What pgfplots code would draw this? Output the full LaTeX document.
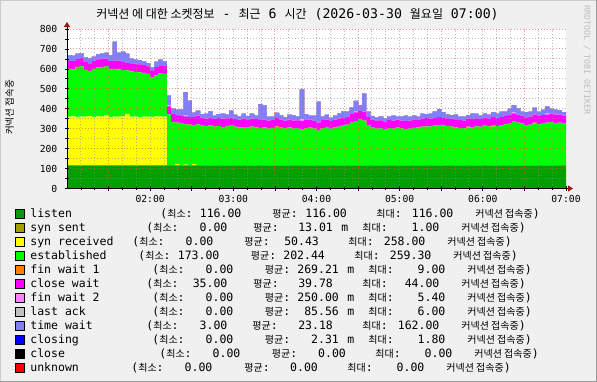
\documentclass[border=0pt]{standalone}
\usepackage{fontspec}
\setmainfont{DejaVu Sans Mono}
\newfontfamily\kr{Noto Sans CJK KR}
\usepackage{pgfplots}
\pgfplotsset{compat=1.18}
\usepackage{pgfplotstable}
\usetikzlibrary{arrows.meta}

\definecolor{bgc}{HTML}{F0F0F0}
\definecolor{shA}{HTML}{CBCBCB}
\definecolor{shB}{HTML}{999999}
\definecolor{mgrid}{HTML}{DE5151}
\definecolor{mingrid}{HTML}{8F8F8F}
\definecolor{arrowc}{HTML}{A01010}
\definecolor{wm}{HTML}{BBBBBB}
\definecolor{cL}{HTML}{00A000}
\definecolor{cSS}{HTML}{A0A000}
\definecolor{cSR}{HTML}{FFFF00}
\definecolor{cEST}{HTML}{00FF00}
\definecolor{cFW1}{HTML}{FF8000}
\definecolor{cCW}{HTML}{FF00FF}
\definecolor{cFW2}{HTML}{FF80FF}
\definecolor{cLA}{HTML}{C0C0C0}
\definecolor{cTW}{HTML}{8080FF}
\definecolor{cCG}{HTML}{0000FF}
\definecolor{cCL}{HTML}{000000}
\definecolor{cUN}{HTML}{FF0000}

\newcommand\tkf{\fontsize{9.7bp}{11bp}\selectfont}
\newcommand\lgf{\fontsize{11.5bp}{14bp}\selectfont}
\newcommand\ttf{\fontsize{13.2bp}{15bp}\selectfont}
\newcommand\kt{\kr\fontsize{12bp}{15bp}\selectfont}
\newcommand\K[1]{{\kr\fontsize{10bp}{14bp}\selectfont #1}}
\newcommand\At[2]{\rlap{\hspace*{\dimexpr#1-30bp\relax}#2}}
\newcommand\Rt[2]{\rlap{\hspace*{\dimexpr#1-30bp\relax}\llap{#2}}}
\newcommand\lrow[7]{%
  \At{30bp}{#1}%
  \At{#2bp}{(\K{최소}:}%
  \Rt{#2bp+81bp}{#3}%
  \At{#4bp}{\K{평균}:}%
  \Rt{#2bp+186.5bp}{#5}\At{#2bp+195bp}{#6}%
  \At{#2bp+216bp}{\K{최대}:}%
  \Rt{#2bp+293bp}{#7}%
  \At{#2bp+315bp}{\K{커넥션 접속중})}%
  \hspace*{530bp}}

\pgfplotstableread{
t L SS SR EST FW1 CW FW2 LA TW CG CL UN
0 116 0 244 240 0 40 0 0 28 0 0 0
3 116 0 246 236 0 41 0 0 26 0 0 0
6 116 0 243 251 0 40 0 0 25 0 0 0
9 116 0 245 251 0 42 0 0 24 0 0 0
12 116 0 244 235 0 39 0 0 24 0 0 0
15 116 0 247 227 0 38 0 0 26 0 0 0
18 116 0 243 241 0 40 0 0 22 0 0 0
21 116 0 246 245 0 41 0 0 26 0 0 0
24 116 0 244 250 0 42 0 0 24 0 0 0
27 116 0 252 244 0 40 0 0 28 0 0 0
30 116 0 243 239 0 41 0 0 30 0 0 0
33 116 0 245 239 0 40 0 0 95 0 0 0
36 116 0 244 236 4 42 0 0 40 0 0 0
39 116 0 246 232 0 40 0 0 52 0 0 0
42 116 0 258 218 0 38 0 0 45 0 0 0
45 116 0 245 227 0 40 0 0 24 0 0 0
48 116 0 244 225 0 41 0 0 20 0 0 0
51 116 0 242 225 0 39 0 0 22 0 0 0
54 116 0 245 219 0 40 0 0 18 0 0 0
57 116 0 244 215 0 38 0 0 16 0 0 0
60 116 0 243 199 0 35 0 0 15 0 0 0
63 116 0 246 206 0 41 0 0 26 0 0 0
66 116 0 245 217 0 40 0 0 28 0 0 0
69 116 0 244 215 0 40 0 0 22 0 0 0
72 116 1 0 255 0 40 0 6 48 0 0 0
75 116 0 0 216 0 41 0 0 26 0 0 0
78 116 0 8 206 0 40 0 0 24 0 0 0
81 116 0 0 209 0 42 0 0 30 0 0 0
84 116 0 4 202 0 40 5 0 117 0 0 0
87 116 0 0 204 0 39 0 0 80 0 0 0
90 116 0 6 196 0 41 0 0 22 0 0 0
93 116 0 0 206 0 43 0 0 26 0 0 0
96 116 0 0 199 0 40 0 0 18 0 0 0
99 116 0 0 196 0 38 0 0 24 0 0 0
102 116 0 0 200 0 41 0 0 30 0 0 0
105 116 0 0 194 0 39 0 0 16 0 0 0
108 116 0 0 197 0 40 0 0 20 0 0 0
111 116 0 0 192 0 42 0 0 26 0 0 0
114 116 0 0 196 0 40 0 0 18 0 0 0
117 116 0 0 199 0 41 0 0 34 0 0 0
120 116 0 0 194 0 39 0 0 20 0 0 0
123 116 0 0 190 0 40 0 0 16 0 0 0
126 116 0 0 192 0 42 0 0 24 0 0 0
129 116 0 0 189 0 38 0 0 20 0 0 0
132 116 0 0 194 0 40 0 0 26 0 0 0
135 116 0 0 191 0 41 0 0 18 0 0 0
138 116 0 0 187 0 40 0 0 80 0 0 0
141 116 0 0 190 0 39 0 0 72 0 0 0
144 116 0 0 184 0 41 0 0 20 0 0 0
147 116 0 0 188 0 40 0 0 16 0 0 0
150 116 0 0 192 3 42 0 0 26 0 0 0
153 116 0 0 189 0 40 0 0 22 0 0 0
156 116 0 0 186 0 38 0 0 18 0 0 0
159 116 0 0 190 0 40 0 0 24 0 0 0
162 116 0 0 184 0 41 0 0 26 0 0 0
165 116 0 0 187 0 39 0 0 20 0 0 0
168 116 0 0 182 0 40 5 4 150 0 0 0
171 116 0 0 185 0 42 0 0 30 0 0 0
174 116 0 0 189 0 40 0 0 20 0 0 0
177 116 0 0 184 0 39 0 0 26 0 0 0
180 116 0 0 174 0 40 0 0 105 0 0 0
183 116 0 0 186 0 41 0 0 18 0 0 0
186 116 0 0 189 0 40 0 0 24 0 0 0
189 116 0 0 184 0 38 0 0 16 0 0 0
192 116 0 0 190 0 40 0 0 20 0 0 0
195 116 0 0 194 0 41 0 0 26 0 0 0
198 116 0 0 199 0 42 0 0 30 0 0 0
201 116 0 0 204 0 40 0 0 24 0 0 0
204 116 0 0 214 0 43 0 0 34 0 0 0
207 116 0 0 222 0 44 5.4 0 50 1.8 0 0
210 116 0 0 229 0 43 0 0 30 0 0 0
213 116 0 0 224 0 44 4 0 88 0 0 0
216 116 0 0 202 0 41 0 0 26 0 0 0
219 116 0 0 189 0 40 0 0 18 0 0 0
222 116 0 0 184 0 39 0 0 16 0 0 0
225 116 0 0 186 0 40 0 0 20 0 0 0
228 116 0 0 182 0 38 0 0 14 0 0 0
231 116 0 0 187 0 40 0 0 18 0 0 0
234 116 0 0 184 0 41 0 0 24 0 0 0
237 116 0 0 189 0 40 0 0 16 0 0 0
240 116 0 0 186 0 39 0 0 20 0 0 0
243 116 0 0 182 0 40 0 0 26 0 0 0
246 116 0 0 184 0 41 0 0 18 0 0 0
249 116 0 0 188 0 40 0 0 22 0 0 0
252 116 0 0 190 0 38 0 0 16 0 0 0
255 116 0 0 194 0 40 0 0 24 0 0 0
258 116 0 0 196 0 41 0 0 20 0 0 0
261 116 0 0 194 0 40 0 0 26 0 0 0
264 116 0 0 199 0 42 0 0 30 0 0 0
267 116 0 0 202 0 40 0 0 40 0 0 0
270 116 0 0 200 0 41 0 0 26 0 0 0
273 116 0 0 197 0 39 0 0 20 0 0 0
276 116 0 0 194 0 40 0 0 18 0 0 0
279 116 0 0 190 0 41 0 0 24 0 0 0
282 116 0 0 188 0 40 0 0 16 0 0 0
285 116 0 0 186 0 38 0 0 20 0 0 0
288 116 0 0 189 5 40 0 0 18 0 0 0
291 116 0 0 192 0 41 0 0 26 0 0 0
294 116 0 0 196 0 40 0 0 22 0 0 0
297 116 0 0 194 0 39 0 0 16 0 0 0
300 116 0 0 199 0 41 0 0 20 0 0 0
303 116 0 0 196 0 40 0 0 18 0 0 0
306 116 0 0 194 9 40 0 0 24 0 0 0
309 116 0 0 197 0 42 0 0 20 0 0 0
312 116 0 0 202 0 40 0 0 26 0 0 0
315 116 0 0 206 0 41 0 0 22 0 0 0
318 116 0 0 212 0 43 0 0 28 0 0 0
321 116 0 0 219 0 42 5 0 36 0 0 0
324 116 0 0 214 0 41 0 0 30 0 0 0
327 116 0 0 209 0 40 0 0 20 0 0 0
330 116 0 0 202 0 39 0 0 26 0 0 0
333 116 0 0 204 0 41 0 0 24 0 0 0
336 116 0 0 209 6 40 0 0 34 0 0 0
339 116 0 0 206 0 42 0 0 20 0 0 0
342 116 0 0 212 0 40 0 0 26 0 0 0
345 116 0 0 214 0 41 5 0 36 0 0 0
348 116 0 0 216 0 43 0 0 24 0 0 0
351 116 0 0 212 0 42 0 0 26 0 0 0
354 116 0 0 214 0 41 0 0 22 0 0 0
357 116 0 0 209 0 40 0 0 18 0 0 0
360 116 0 0 209 0 40 0 0 18 0 0 0
}\data

\begin{document}
\begin{tikzpicture}
\fill[bgc] (0,0) rectangle (597bp,382bp);
\useasboundingbox (0,0) rectangle (597bp,382bp);
\draw[shA, line width=1bp] (0.5bp,0) -- (0.5bp,381.5bp) -- (597bp,381.5bp);
\draw[shB, line width=1bp] (0,0.5bp) -- (596.5bp,0.5bp) -- (596.5bp,382bp);
\begin{axis}[
  at={(67bp,193.5bp)}, anchor=south west,
  scale only axis, width=499bp, height=159.5bp,
  xmin=0, xmax=360, ymin=0, ymax=800, enlargelimits=false,
  stack plots=y, const plot,
  axis on top,
  axis background/.style={fill=white},
  axis lines=left,
  x axis line style={draw=black, line width=1bp, -{Triangle[length=5bp,width=6bp,color=arrowc]}, shorten >=-7bp},
  y axis line style={draw=black, line width=1bp, -{Triangle[length=5bp,width=6bp,color=arrowc]}, shorten >=-7bp},
  xtick={30,90,150,210,270,330}, xticklabels={},
  minor xtick={10,20,40,50,60,70,80,100,110,120,130,140,160,170,180,190,200,220,230,240,250,260,280,290,300,310,320,340,350},
  extra x ticks={60,120,180,240,300,360},
  extra x tick labels={02:00,03:00,04:00,05:00,06:00,07:00},
  extra x tick style={grid=none},
  ytick={0,100,...,800}, minor ytick={50,150,...,750},
  grid=both,
  major grid style={draw=mgrid, draw opacity=0.6, line width=1bp, dash pattern=on 1bp off 2bp},
  minor grid style={draw=mingrid, draw opacity=0.6, line width=1bp, dash pattern=on 1bp off 2bp},
  tick align=center, major tick length=4bp, minor tick length=3bp,
  every tick/.style={black, line width=0.7bp},
  tick label style={font=\tkf},
  yticklabel style={/pgf/number format/assume math mode=true, anchor=east, inner sep=0pt, xshift=-7.5bp},
  xticklabel style={anchor=north, inner sep=0pt, yshift=-4.5bp},
  title={{\kt 커넥션 에 대한 소켓정보} - {\kt 최근} 6 {\kt 시간} (2026-03-30 {\kt 월요일} 07:00)},
  title style={at={(axis description cs:0.4619,1.0313)}, anchor=base, font=\ttf, inner sep=0pt},
  ylabel={\kr\fontsize{9.5bp}{11bp}\selectfont 커넥션 접속중},
  ylabel style={at={(axis description cs:-0.1152,0.5078)}, anchor=center, inner sep=0pt},
  legend cell align=left,
  legend style={at={(axis description cs:-0.10421,-0.11599)}, anchor=north west, draw=none, fill=none, inner sep=0pt, outer sep=0pt, row sep=0pt, column sep=0pt, font=\lgf, nodes={inner sep=0pt, outer sep=0pt, text height=10.5bp, text depth=3.5bp}},
  legend image code/.code={\draw[draw=black, line width=0.8bp, fill] (0bp,-4.5bp) rectangle (9bp,4.5bp); \path (15bp,0bp);},
]
\addplot[fill=cL, draw=none] table[x=t,y=L]{\data} \closedcycle;
\addlegendentry{\lrow{listen}{160}{116.00}{272}{116.00}{}{116.00}}
\addplot[fill=cSS, draw=none] table[x=t,y=SS]{\data} \closedcycle;
\addlegendentry{\lrow{syn sent}{146}{0.00}{253}{13.01}{m}{1.00}}
\addplot[fill=cSR, draw=none] table[x=t,y=SR]{\data} \closedcycle;
\addlegendentry{\lrow{syn received}{132}{0.00}{244}{50.43}{}{258.00}}
\addplot[fill=cEST, draw=none] table[x=t,y=EST]{\data} \closedcycle;
\addlegendentry{\lrow{established}{138}{173.00}{250.5}{202.44}{}{259.30}}
\addplot[fill=cFW1, draw=none] table[x=t,y=FW1]{\data} \closedcycle;
\addlegendentry{\lrow{fin wait 1}{152}{0.00}{264.5}{269.21}{m}{9.00}}
\addplot[fill=cCW, draw=none] table[x=t,y=CW]{\data} \closedcycle;
\addlegendentry{\lrow{close wait}{146}{35.00}{253}{39.78}{}{44.00}}
\addplot[fill=cFW2, draw=none] table[x=t,y=FW2]{\data} \closedcycle;
\addlegendentry{\lrow{fin wait 2}{152}{0.00}{264.5}{250.00}{m}{5.40}}
\addplot[fill=cLA, draw=none] table[x=t,y=LA]{\data} \closedcycle;
\addlegendentry{\lrow{last ack}{152}{0.00}{264.5}{85.56}{m}{6.00}}
\addplot[fill=cTW, draw=none] table[x=t,y=TW]{\data} \closedcycle;
\addlegendentry{\lrow{time wait}{146}{3.00}{252}{23.18}{}{162.00}}
\addplot[fill=cCG, draw=none] table[x=t,y=CG]{\data} \closedcycle;
\addlegendentry{\lrow{closing}{152}{0.00}{264.5}{2.31}{m}{1.80}}
\addplot[fill=cCL, draw=none] table[x=t,y=CL]{\data} \closedcycle;
\addlegendentry{\lrow{close}{159}{0.00}{271.5}{0.00}{}{0.00}}
\addplot[fill=cUN, draw=none] table[x=t,y=UN]{\data} \closedcycle;
\addlegendentry{\lrow{unknown}{131}{0.00}{244}{0.00}{}{0.00}}
\end{axis}
\node[rotate=-90, font=\fontsize{8.3bp}{9bp}\selectfont, text=wm, inner sep=0pt] at (587bp,322bp) {RRDTOOL / TOBI OETIKER};
\end{tikzpicture}
\end{document}
